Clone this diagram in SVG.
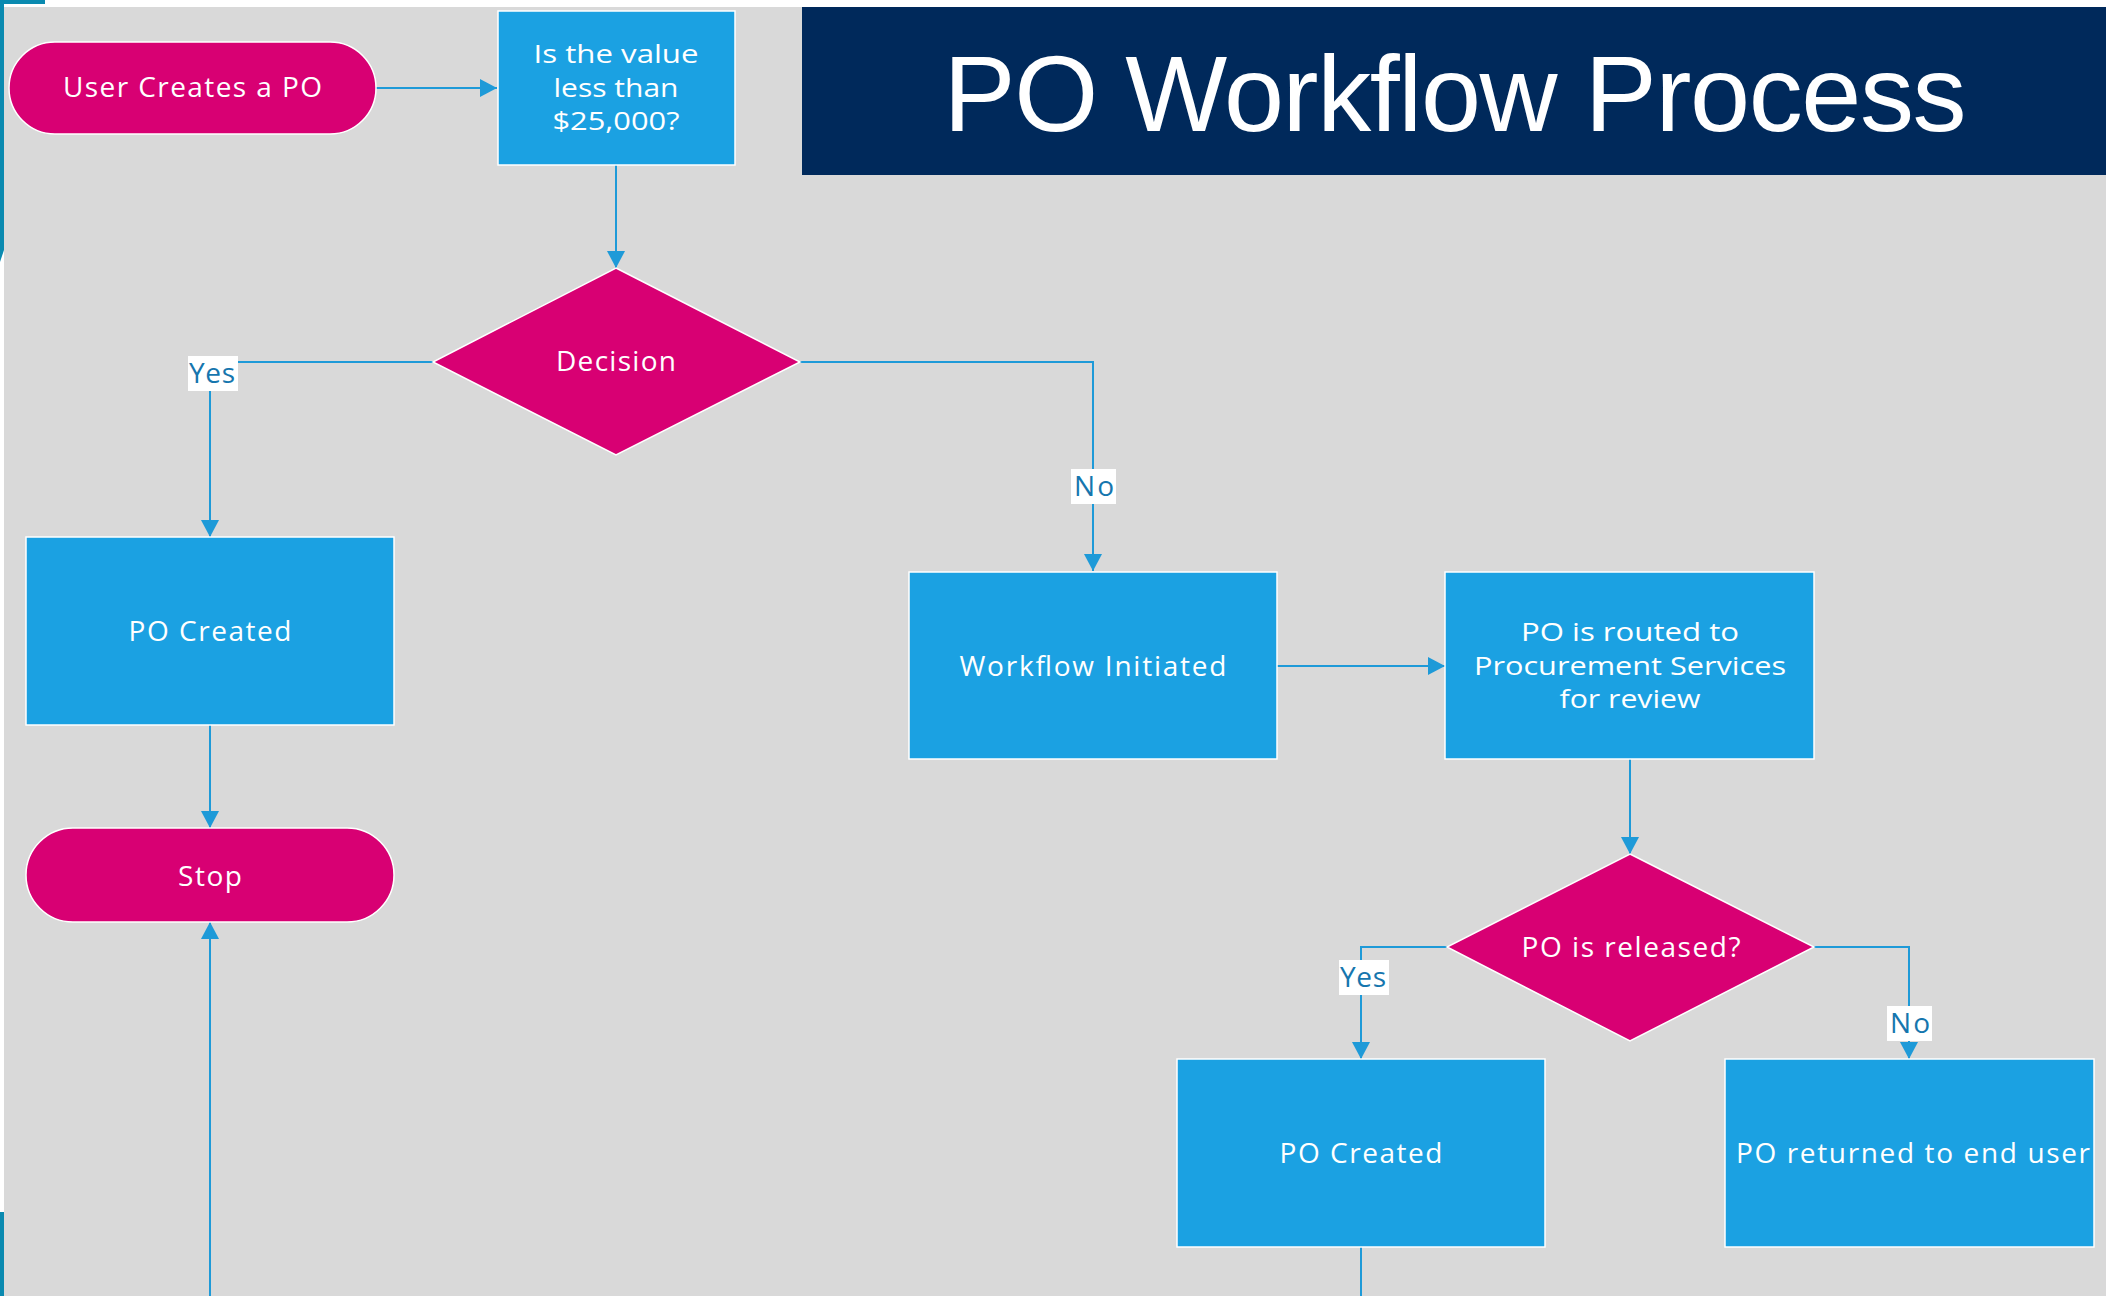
<svg xmlns="http://www.w3.org/2000/svg" width="2116" height="1296" viewBox="0 0 2116 1296">
<defs>
<style>
.proc{fill:#1BA1E2;stroke:#FFFFFF;stroke-width:1.5}
.term{fill:#D80073;stroke:#FFFFFF;stroke-width:1.5}
.dec{fill:#D80073;stroke:#FFFFFF;stroke-width:1.5}
.t{font-family:"Open Sans","Liberation Sans",sans-serif;font-size:28px;fill:#FFFFFF;text-anchor:middle}
.tm{font-size:25px}
.conn{fill:none;stroke:#1E9AD8;stroke-width:2}
.lblbg{fill:#FFFFFF}
.lbl{font-family:"Open Sans","Liberation Sans",sans-serif;font-size:28px;fill:#1676AE;text-anchor:middle}
.title{font-family:"Liberation Sans",Arial,sans-serif;font-size:108px;fill:#FFFFFF;text-anchor:middle}
</style>
<marker id="ah" markerWidth="17" markerHeight="18" refX="17" refY="9" orient="auto" markerUnits="userSpaceOnUse">
<path d="M0,0 L17,9 L0,18 z" fill="#1E9AD8"/>
</marker>
</defs>
<rect x="0" y="0" width="2116" height="1296" fill="#FFFFFF"/>
<rect x="4" y="7" width="2102" height="1289" fill="#D9D9D9"/>
<path d="M0,0 H45 V4 H4 V250 L0,262 Z" fill="#0A8AB0"/>
<rect x="0" y="1212" width="4" height="84" fill="#0A8AB0"/>

<g id="title">
<rect x="802" y="7" width="1304" height="168" fill="#00295B"/>
<text class="title" x="1455" y="131" textLength="1023">PO Workflow Process</text>
</g>

<g id="connectors">
<path class="conn" d="M376,88 H497" marker-end="url(#ah)"/>
<path class="conn" d="M616,165 V268" marker-end="url(#ah)"/>
<path class="conn" d="M433,362 H210 V537" marker-end="url(#ah)"/>
<path class="conn" d="M800,362 H1093 V571" marker-end="url(#ah)"/>
<path class="conn" d="M210,725 V828" marker-end="url(#ah)"/>
<path class="conn" d="M210,1296 V922" marker-end="url(#ah)"/>
<path class="conn" d="M1277,666 H1445" marker-end="url(#ah)"/>
<path class="conn" d="M1630,759 V854" marker-end="url(#ah)"/>
<path class="conn" d="M1447,947 H1361 V1059" marker-end="url(#ah)"/>
<path class="conn" d="M1814,947 H1909 V1059" marker-end="url(#ah)"/>
<path class="conn" d="M1361,1247 V1296"/>
<g id="label-yes-1"><rect class="lblbg" x="188" y="356" width="50" height="35"/><text class="lbl" x="212" y="383" textLength="46">Yes</text></g>
<g id="label-no-1"><rect class="lblbg" x="1071" y="469" width="45" height="35"/><text class="lbl" x="1094" y="496" textLength="40">No</text></g>
<g id="label-yes-2"><rect class="lblbg" x="1339" y="960" width="50" height="35"/><text class="lbl" x="1363" y="987" textLength="46">Yes</text></g>
<g id="label-no-2"><rect class="lblbg" x="1887" y="1006" width="45" height="35"/><text class="lbl" x="1910" y="1033" textLength="40">No</text></g>
</g>

<g id="start">
<rect class="term" x="9" y="42" width="367" height="92" rx="46" ry="46"/>
<text class="t" x="192.5" y="97" textLength="259">User Creates a PO</text>
</g>

<g id="value-check">
<rect class="proc" x="498" y="11" width="237" height="154"/>
<text class="t tm" x="616" y="63" textLength="165" lengthAdjust="spacingAndGlyphs">Is the value</text>
<text class="t tm" x="616" y="97" textLength="125" lengthAdjust="spacingAndGlyphs">less than</text>
<text class="t tm" x="616" y="130" textLength="127" lengthAdjust="spacingAndGlyphs">$25,000?</text>
</g>

<g id="decision">
<polygon class="dec" points="616,268 800,362 616,455 433,362"/>
<text class="t" x="616" y="371" textLength="120">Decision</text>
</g>

<g id="po-created-1">
<rect class="proc" x="26" y="537" width="368" height="188"/>
<text class="t" x="210" y="641" textLength="163">PO Created</text>
</g>

<g id="stop">
<rect class="term" x="26" y="828" width="368" height="94" rx="47" ry="47"/>
<text class="t" x="210" y="886" textLength="64">Stop</text>
</g>

<g id="workflow-initiated">
<rect class="proc" x="909" y="572" width="368" height="187"/>
<text class="t" x="1093" y="676" textLength="267">Workflow Initiated</text>
</g>

<g id="routed">
<rect class="proc" x="1445" y="572" width="369" height="187"/>
<text class="t tm" x="1630" y="641" textLength="218" lengthAdjust="spacingAndGlyphs">PO is routed to</text>
<text class="t tm" x="1630" y="675" textLength="312" lengthAdjust="spacingAndGlyphs">Procurement Services</text>
<text class="t tm" x="1630" y="708" textLength="141" lengthAdjust="spacingAndGlyphs">for review</text>
</g>

<g id="released">
<polygon class="dec" points="1630,854 1814,947 1630,1041 1447,947"/>
<text class="t" x="1631" y="957" textLength="219">PO is released?</text>
</g>

<g id="po-created-2">
<rect class="proc" x="1177" y="1059" width="368" height="188"/>
<text class="t" x="1361" y="1163" textLength="163">PO Created</text>
</g>

<g id="returned">
<rect class="proc" x="1725" y="1059" width="369" height="188"/>
<text class="t" x="1913" y="1163" textLength="354">PO returned to end user</text>
</g>
</svg>
